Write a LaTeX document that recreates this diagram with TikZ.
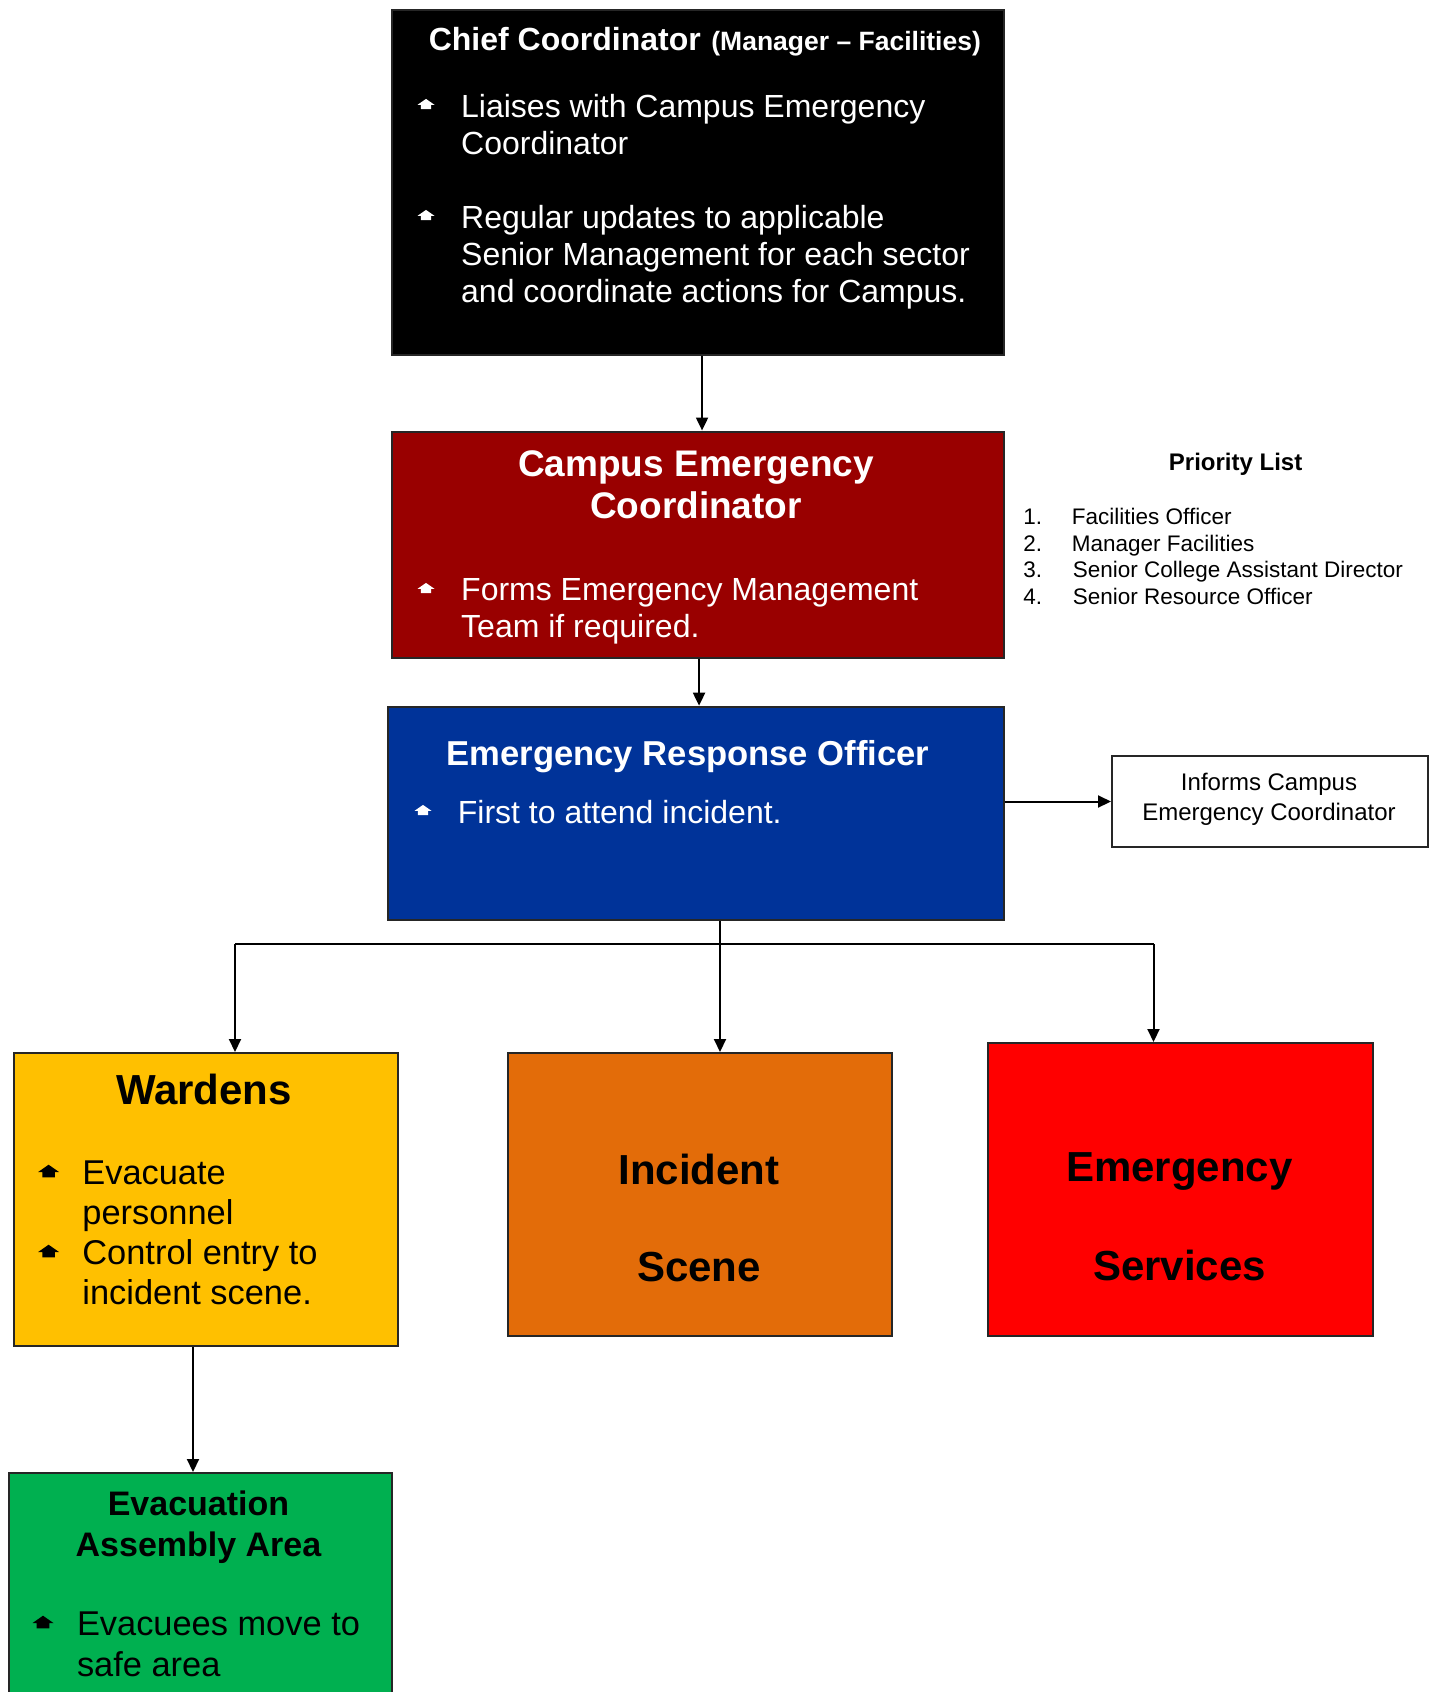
\documentclass[tikz,border=0pt]{standalone}
\usepackage{fontspec}
\setmainfont{Liberation Sans}
\usetikzlibrary{arrows.meta,calc}
\definecolor{cred}{HTML}{990000}
\definecolor{cblue}{HTML}{003399}
\definecolor{cyel}{HTML}{FFC000}
\definecolor{corg}{HTML}{E36C09}
\definecolor{cred2}{HTML}{FF0000}
\definecolor{cgrn}{HTML}{00B050}
\newcommand\fs[1]{\fontsize{#1}{#1}\selectfont}
\newcommand\mkbox[6]{\node[box,fill=#6,minimum width={(#4-#2)*0.5pt},minimum height={(#5-#3)*0.5pt}] (#1) at (#2,#3) {};}
\newcommand\hbul[4]{\fill[#4,shift={(#1,#2)}] (-0.5*#3,0.05*#3) -- (0,-0.3*#3) -- (0.5*#3,0.05*#3) -- (0.3*#3,0.05*#3) -- (0.3*#3,0.3*#3) -- (-0.3*#3,0.3*#3) -- (-0.3*#3,0.05*#3) -- cycle;}
\begin{document}
\begin{tikzpicture}[x=0.5pt,y=-0.5pt,
 box/.style={draw=black!85,line width=1pt,inner sep=0pt,anchor=north west},
 arr/.style={line width=1pt,-{Triangle[length=6.5pt,width=6pt]}},
 ln/.style={line width=1pt},
 txt/.style={inner sep=0pt,anchor=base west},
 ctxt/.style={inner sep=0pt,anchor=base},
]
\useasboundingbox[fill=white] (0,0) rectangle (1433,1692);

% boxes
\mkbox{chief}{390.6}{8.6}{1002.5}{354}{black}
\mkbox{cec}{390.6}{430.5}{1002.5}{657}{cred}
\mkbox{ero}{387}{705.7}{1002.5}{919}{cblue}
\mkbox{informs}{1111}{755}{1426.5}{846}{white}
\mkbox{wardens}{13}{1052}{397}{1344.5}{cyel}
\mkbox{incident}{507}{1052}{891}{1335}{corg}
\mkbox{emerg}{987}{1042}{1371.5}{1335}{cred2}
\mkbox{evac}{7.5}{1472}{390.6}{1710}{cgrn}

% chief text
\node[txt,font=\bfseries\fs{16},text=white] (ch1) at (428.4,50) {Chief Coordinator};
\node[txt,font=\bfseries\fs{13.25},text=white] (ch2) at (711,50) {(Manager -- Facilities)};
\node[txt,font=\fs{16},text=white] (ch3) at (460.8,117) {Liaises with Campus Emergency};
\node[txt,font=\fs{16},text=white] (ch4) at (460.8,154) {Coordinator};
\node[txt,font=\fs{16},text=white] (ch5) at (460.8,228) {Regular updates to applicable};
\node[txt,font=\fs{16},text=white] (ch6) at (460.8,265) {Senior Management for each sector};
\node[txt,font=\fs{16},text=white] (ch7) at (460.8,302) {and coordinate actions for Campus.};
\hbul{426}{104}{17}{white}
\hbul{426}{215}{17}{white}

% campus emergency coordinator
\node[ctxt,font=\bfseries\fs{18.5},text=white] (ce1) at (696,476) {Campus Emergency};
\node[ctxt,font=\bfseries\fs{18.5},text=white] (ce2) at (696,518) {Coordinator};
\node[txt,font=\fs{16},text=white] (ce3) at (460.8,600.6) {Forms Emergency Management};
\node[txt,font=\fs{16},text=white] (ce4) at (460.8,637.4) {Team if required.};
\hbul{426}{588}{17}{white}

% priority list
\node[ctxt,font=\bfseries\fs{12}] (pl) at (1235.6,470.4) {Priority List};
\node[txt,font=\fs{11.25}] (pn1) at (1023,524) {1.};
\node[txt,font=\fs{11.25}] (pn2) at (1023,551) {2.};
\node[txt,font=\fs{11.25}] (pn3) at (1023,577) {3.};
\node[txt,font=\fs{11.25}] (pn4) at (1023,604) {4.};
\node[txt,font=\fs{11.25}] (pt1) at (1071.5,524) {Facilities Officer};
\node[txt,font=\fs{11.25}] (pt2) at (1071.5,551) {Manager Facilities};
\node[txt,font=\fs{11.25}] (pt3) at (1072.5,577) {Senior College Assistant Director};
\node[txt,font=\fs{11.25}] (pt4) at (1072.5,604) {Senior Resource Officer};

% emergency response officer
\node[ctxt,font=\bfseries\fs{17.3},text=white] (er1) at (688,765.5) {Emergency Response Officer};
\node[txt,font=\fs{16},text=white] (er2) at (457.5,823) {First to attend incident.};
\hbul{423}{810}{17}{white}

% informs
\node[ctxt,font=\fs{12}] (in1) at (1269,790) {Informs Campus};
\node[ctxt,font=\fs{12}] (in2) at (1269,820) {Emergency Coordinator};

% wardens
\node[ctxt,font=\bfseries\fs{21}] (wa1) at (204,1104) {Wardens};
\node[txt,font=\fs{17.2}] (wa2) at (82,1184) {Evacuate};
\node[txt,font=\fs{17.2}] (wa3) at (82,1224) {personnel};
\node[txt,font=\fs{17.2}] (wa4) at (82,1264) {Control entry to};
\node[txt,font=\fs{17.2}] (wa5) at (82,1304) {incident scene.};
\hbul{48.6}{1171}{21}{black}
\hbul{48.6}{1251}{21}{black}

% incident
\node[ctxt,font=\bfseries\fs{21}] (is1) at (699,1184) {Incident};
\node[ctxt,font=\bfseries\fs{21}] (is2) at (699,1281) {Scene};

% emergency services
\node[ctxt,font=\bfseries\fs{21}] (es1) at (1179.4,1181.5) {Emergency};
\node[ctxt,font=\bfseries\fs{21}] (es2) at (1179.4,1280) {Services};

% evacuation
\node[ctxt,font=\bfseries\fs{17}] (ev1) at (198.5,1515) {Evacuation};
\node[ctxt,font=\bfseries\fs{17}] (ev2) at (198.5,1556) {Assembly Area};
\node[txt,font=\fs{17.2}] (ev3) at (76.6,1635) {Evacuees move to};
\node[txt,font=\fs{17.2}] (ev4) at (76.6,1676) {safe area};
\hbul{43}{1622}{21}{black}

% connectors
\draw[arr] ([xshift=2.25pt]chief.south) -- ([xshift=2.25pt]cec.north);
\draw[arr] ([xshift=0.75pt]cec.south) -- ([xshift=0.75pt]cec.south |- ero.north);
\draw[arr] (ero.east |- informs.west) -- (informs.west);
\coordinate (bl) at (235,944);
\coordinate (bm) at (720,944);
\coordinate (br) at (1153.5,944);
\draw[ln] (ero.south -| bm) -- (bm);
\draw[ln] (bl) -- (br);
\draw[arr] (bl) -- (bl |- wardens.north);
\draw[arr] (bm) -- (bm |- incident.north);
\draw[arr] (br) -- (br |- emerg.north);
\draw[arr] ([xshift=-6.5pt]wardens.south) -- ([xshift=-6.5pt]wardens.south |- evac.north);
\end{tikzpicture}
\end{document}
